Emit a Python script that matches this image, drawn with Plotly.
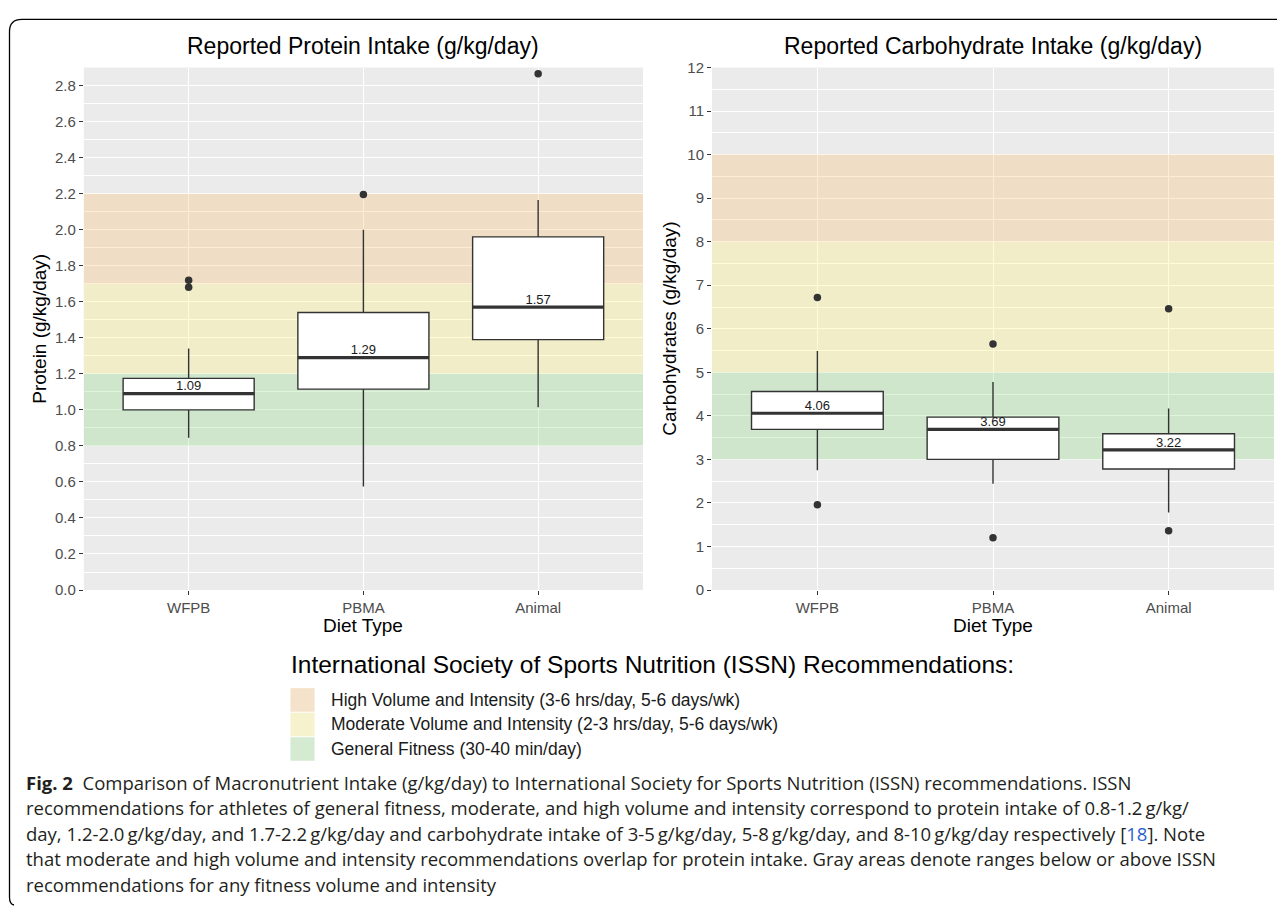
import plotly.graph_objects as go

# ---------------- data ----------------
diets = ["WFPB", "PBMA", "Animal"]

prot_q1 = [1.00, 1.115, 1.39]
prot_median = [1.09, 1.29, 1.57]
prot_q3 = [1.175, 1.54, 1.96]
prot_low = [0.845, 0.575, 1.015]
prot_high = [1.34, 2.00, 2.165]
prot_out_x = ["WFPB", "WFPB", "PBMA", "Animal"]
prot_out_y = [1.72, 1.68, 2.195, 2.865]

carb_q1 = [3.69, 3.00, 2.78]
carb_median = [4.06, 3.69, 3.22]
carb_q3 = [4.56, 3.97, 3.59]
carb_low = [2.75, 2.44, 1.78]
carb_high = [5.49, 4.78, 4.17]
carb_out_x = ["WFPB", "WFPB", "PBMA", "PBMA", "Animal", "Animal"]
carb_out_y = [6.72, 1.96, 5.65, 1.20, 6.46, 1.36]

band_labels = ["High Volume and Intensity (3-6 hrs/day, 5-6 days/wk)",
               "Moderate Volume and Intensity (2-3 hrs/day, 5-6 days/wk)",
               "General Fitness (30-40 min/day)"]
band_colors = ["rgba(251,179,83,0.25)", "rgba(255,243,95,0.25)", "rgba(123,211,111,0.25)"]
prot_band_low = [1.7, 1.2, 0.8]
prot_band_high = [2.2, 1.7, 1.2]
carb_band_low = [8, 5, 3]
carb_band_high = [10, 8, 5]

prot_ticks = [0.0, 0.2, 0.4, 0.6, 0.8, 1.0, 1.2, 1.4, 1.6, 1.8, 2.0, 2.2, 2.4, 2.6, 2.8]
carb_ticks = list(range(0, 13))

caption_lines = [
    "<b>Fig. 2</b>  Comparison of Macronutrient Intake (g/kg/day) to International Society for Sports Nutrition (ISSN) recommendations. ISSN",
    "recommendations for athletes of general fitness, moderate, and high volume and intensity correspond to protein intake of 0.8-1.2\u2009g/kg/",
    "day, 1.2-2.0\u2009g/kg/day, and 1.7-2.2\u2009g/kg/day and carbohydrate intake of 3-5\u2009g/kg/day, 5-8\u2009g/kg/day, and 8-10\u2009g/kg/day respectively [<span style='color:#2F5FD0'>18</span>]. Note",
    "that moderate and high volume and intensity recommendations overlap for protein intake. Gray areas denote ranges below or above ISSN",
    "recommendations for any fitness volume and intensity",
]

# ---------------- layout helpers ----------------
OFF = 8  # page body margin
W, H = 1285 - OFF, 913 - OFF
FONT = "Liberation Sans, Arial, Helvetica, sans-serif"
def px(x):
    return (x - OFF) / W
def py(y):
    return 1 - (y - OFF) / H

BOXW = 0.75
XMIN, XMAX = -0.6, 2.6
pos = {d: i for i, d in enumerate(diets)}

fig = go.Figure()

def add_bands(xa, ya, lows, highs):
    # draw moderate, then high, then general fitness
    for i in [1, 0, 2]:
        fig.add_trace(go.Bar(x=[(XMIN + XMAX) / 2], base=[lows[i]], y=[highs[i] - lows[i]],
                             width=[XMAX - XMIN], marker=dict(color=band_colors[i], line_width=0),
                             xaxis=xa, yaxis=ya, showlegend=False, hoverinfo="skip"))

def add_panel(xa, ya, q1, med, q3, lo, hi, ox, oy):
    xs = list(range(len(diets)))
    fig.add_trace(go.Box(
        x=xs, q1=q1, median=med, q3=q3, lowerfence=lo, upperfence=hi,
        width=BOXW, whiskerwidth=0, boxpoints=False,
        fillcolor="white", line=dict(color="#333333", width=1.4),
        xaxis=xa, yaxis=ya, showlegend=False, hoverinfo="skip"))
    mx, my = [], []
    for i, m in enumerate(med):
        mx += [i - BOXW / 2, i + BOXW / 2, None]
        my += [m, m, None]
    fig.add_trace(go.Scatter(x=mx, y=my, mode="lines",
                             line=dict(color="#333333", width=3.2),
                             xaxis=xa, yaxis=ya, showlegend=False, hoverinfo="skip"))
    fig.add_trace(go.Scatter(x=[pos[d] for d in ox], y=oy, mode="markers",
                             marker=dict(color="#333333", size=7.5),
                             xaxis=xa, yaxis=ya, showlegend=False, hoverinfo="skip"))
    fig.add_trace(go.Scatter(x=xs, y=med, mode="text", text=[f"{m:.2f}" for m in med],
                             textposition="top center",
                             textfont=dict(family=FONT, size=13, color="#1a1a1a"),
                             xaxis=xa, yaxis=ya, showlegend=False, hoverinfo="skip"))

add_bands("x", "y", prot_band_low, prot_band_high)
add_bands("x2", "y2", carb_band_low, carb_band_high)
add_panel("x", "y", prot_q1, prot_median, prot_q3, prot_low, prot_high, prot_out_x, prot_out_y)
add_panel("x2", "y2", carb_q1, carb_median, carb_q3, carb_low, carb_high, carb_out_x, carb_out_y)

axis_common = dict(showline=False, zeroline=False, ticks="outside", ticklen=4,
                   tickcolor="#333333", tickwidth=1.1, gridcolor="white", gridwidth=1.4,
                   tickfont=dict(family=FONT, size=15, color="#4D4D4D"))
ybot, ytop = py(592), py(59.5)
fig.update_layout(
    width=W, height=H, margin=dict(l=0, r=0, t=0, b=0), barmode="overlay",
    paper_bgcolor="white", plot_bgcolor="#EBEBEB", showlegend=False,
    xaxis=dict(domain=[px(83.8), px(643)], range=[XMIN, XMAX], tickvals=list(range(3)),
               ticktext=diets, anchor="y", **axis_common),
    yaxis=dict(domain=[ybot, ytop], range=[0, 2.9], tickvals=prot_ticks,
               ticktext=[f"{t:.1f}" for t in prot_ticks], anchor="x",
               minor=dict(dtick=0.1, tick0=0.1, showgrid=True, gridcolor="white", gridwidth=0.7, ticks=""),
               **axis_common),
    xaxis2=dict(domain=[px(712), px(1274)], range=[XMIN, XMAX], tickvals=list(range(3)),
                ticktext=diets, anchor="y2", **axis_common),
    yaxis2=dict(domain=[ybot, ytop], range=[0, 12], tickvals=carb_ticks,
                ticktext=[str(t) for t in carb_ticks], anchor="x2",
                minor=dict(dtick=0.5, tick0=0.5, showgrid=True, gridcolor="white", gridwidth=0.7, ticks=""),
                **axis_common),
)

ann = []
def text(x, y, s, size, color="black", xanchor="center", angle=0, family=FONT):
    ann.append(dict(x=px(x), y=py(y), xref="paper", yref="paper", text=s, showarrow=False,
                    xanchor=xanchor, yanchor="middle", textangle=angle,
                    font=dict(family=family, size=size, color=color)))

text(363.4, 38, "Reported Protein Intake (g/kg/day)", 23)
text(993, 38, "Reported Carbohydrate Intake (g/kg/day)", 23)
text(363.4, 628, "Diet Type", 19)
text(993, 628, "Diet Type", 19)
text(40, 325.75, "Protein (g/kg/day)", 19, angle=-90)
text(670, 325.75, "Carbohydrates (g/kg/day)", 19, angle=-90)
text(652, 668, "International Society of Sports Nutrition (ISSN) Recommendations:", 24.5)

# legend
for i, (lab, col) in enumerate(zip(band_labels, band_colors)):
    yc = 704 + 25 * i
    fig.add_shape(type="rect", xref="paper", yref="paper", x0=px(290.5), x1=px(314.5),
                  y0=py(yc - 12), y1=py(yc + 12), fillcolor="#F2F2F2", line_width=0)
    fig.add_shape(type="rect", xref="paper", yref="paper", x0=px(290.5), x1=px(314.5),
                  y0=py(yc - 12), y1=py(yc + 12), fillcolor=col, line_width=0)
    text(329, yc, lab, 17.5, color="#1a1a1a", xanchor="left")

# caption
CAPFONT = "Open Sans, Noto Sans, sans-serif"
for i, line in enumerate(caption_lines):
    text(24, 788 + 26 * i, line, 18.5, color="#231F20", xanchor="left", family=CAPFONT)

fig.update_layout(annotations=ann)

# frame
path = (f"M {px(1285)},{py(10.5)} L {px(22)},{py(10.5)} "
        f"Q {px(9.5)},{py(10.5)} {px(9.5)},{py(23)} L {px(9.5)},{py(905)} "
        f"Q {px(9.5)},{py(912)} {px(14)},{py(913)}")
fig.add_shape(type="path", xref="paper", yref="paper", path=path,
              line=dict(color="black", width=1.3))

fig.write_html("out.html")
